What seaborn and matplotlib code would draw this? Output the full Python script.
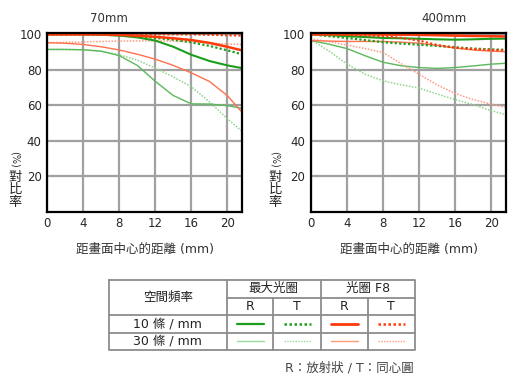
import numpy as np
import pandas as pd
import matplotlib
matplotlib.use("Agg")
import matplotlib.pyplot as plt
import seaborn as sns

# ---------------- data ----------------
x_pos = [0, 2, 4, 6, 8, 10, 12, 14, 16, 18, 20, 21.6]

# 70mm
w70_10R = [100, 100, 100, 99.8, 99.3, 98.3, 96.5, 93, 88.5, 85, 82.5, 81]
w70_10T = [100, 100, 100, 99.8, 99.5, 99, 98, 97, 95.5, 93.5, 91, 88.8]
f70_10R = [100, 100, 100, 100, 99.7, 99.2, 98.6, 97.8, 96.8, 95.2, 93, 91]
f70_10T = [100, 100, 100, 100, 100, 100, 100, 100, 100, 99.8, 99.5, 99.3]
w70_30R = [91.5, 91.5, 91.3, 90.5, 88, 82.5, 73.5, 65.5, 60.8, 60.7, 59.8, 58.3]
w70_30T = [91.5, 91.5, 91.3, 90.5, 88.5, 85.5, 81, 76, 70.5, 62, 52.5, 45.5]
f70_30R = [95.3, 95, 94.3, 93, 91.2, 88.8, 86, 82.5, 78.3, 73.5, 65.5, 56.3]
f70_30T = [95.3, 95.5, 95.7, 96, 96.2, 96.3, 96.3, 96.2, 95.8, 95.2, 94.5, 94.3]

# 400mm
w400_10R = [100, 99.6, 99, 98.5, 98, 97.8, 97.5, 97.2, 97, 97.2, 97.5, 97.6]
w400_10T = [100, 99, 98, 96.8, 95.6, 94.8, 94.2, 93.5, 92.7, 92, 91.5, 91.3]
f400_10R = [100, 100, 100, 100, 99.9, 99.8, 99.7, 99.5, 99.3, 99.1, 99, 98.8]
f400_10T = [100, 100, 99.8, 99.5, 99, 98, 96.5, 94, 92.5, 91.7, 91.2, 91]
w400_30R = [96.5, 94.5, 92, 88, 84.3, 82.3, 81.3, 80.8, 81.3, 82.2, 83.2, 83.7]
w400_30T = [97, 90.7, 83.3, 77.6, 73.8, 71.6, 69.7, 66.4, 63.2, 60.4, 57, 54.8]
f400_30R = [96.5, 96.2, 96, 96, 96, 95.6, 95, 93.8, 92.3, 91.2, 90.5, 90.2]
f400_30T = [97.5, 96, 94, 92, 89.8, 83.5, 77.5, 71.5, 66.7, 63.2, 60.7, 58.8]

x_ticks = [0, 4, 8, 12, 16, 20]
y_ticks = [20, 40, 60, 80, 100]
titles = ["70mm", "400mm"]
x_label = "距畫面中心的距離 (mm)"
table_head = ["空間頻率", "最大光圈", "光圈 F8"]
rt_labels = ["R", "T", "R", "T"]
freq_labels = ["10 條 / mm", "30 條 / mm"]
caption = "R：放射狀 / T：同心圓"

# ---------------- styles ----------------
C_G10 = "#1c9e1c"
C_R10 = "#ff3a0a"
C_G30R = "#5cb85c"
C_G30T = "#8fd48f"
C_F30R = "#ff7050"
C_F30T = "#ff9a80"
DOT = (0, (1, 1))

sns.set_theme(style="white")
MIX = ["DejaVu Sans", "Noto Sans CJK TC"]
plt.rcParams["font.family"] = MIX

W, H = 519, 389
fig = plt.figure(figsize=(W / 100, H / 100), dpi=100)


def box(l, t, r, b):
    return [l / W, 1 - b / H, (r - l) / W, (b - t) / H]


axes = [fig.add_axes(box(47.3, 33.3, 241.7, 211.7)),
        fig.add_axes(box(310.7, 33.3, 505.7, 211.7))]

sets = [
    [(w70_30T, C_G30T, DOT, 1.1), (w70_30R, C_G30R, "-", 1.0),
     (f70_30T, C_F30T, DOT, 1.1), (f70_30R, C_F30R, "-", 1.0),
     (w70_10T, C_G10, DOT, 1.6), (w70_10R, C_G10, "-", 1.5),
     (f70_10T, C_R10, DOT, 1.6), (f70_10R, C_R10, "-", 1.8)],
    [(w400_30T, C_G30T, DOT, 1.1), (w400_30R, C_G30R, "-", 1.0),
     (f400_30T, C_F30T, DOT, 1.1), (f400_30R, C_F30R, "-", 1.0),
     (w400_10T, C_G10, DOT, 1.6), (w400_10R, C_G10, "-", 1.5),
     (f400_10T, C_R10, DOT, 1.6), (f400_10R, C_R10, "-", 1.8)],
]

for ax, series in zip(axes, sets):
    for ys, col, ls, lw in series:
        sns.lineplot(x=x_pos, y=ys, ax=ax, color=col, linestyle=ls, lw=lw)
    ax.set_xlim(0, 21.6)
    ax.set_ylim(0, 100.6)
    ax.set_xticks(x_ticks)
    ax.set_yticks(y_ticks)
    ax.set_xticklabels([str(v) for v in x_ticks], fontsize=8.5)
    ax.set_yticklabels([str(v) for v in y_ticks], fontsize=8.5)
    ax.tick_params(length=0, pad=4)
    ax.grid(True, color="#a0a0a0", lw=1.6)
    ax.set_axisbelow(True)
    for s in ax.spines.values():
        s.set_color("black")
        s.set_linewidth(1.6)
    ax.set_xlabel("")
    ax.set_ylabel("")

# titles
fig.text(109 / W, 1 - 18 / H, titles[0], ha="center", va="center", fontsize=8.5, color="#333333")
fig.text(444 / W, 1 - 18 / H, titles[1], ha="center", va="center", fontsize=8.5, color="#333333")

# x labels
for cx in (145, 409):
    fig.text(cx / W, 1 - 249 / H, x_label, ha="center", va="center", fontsize=9, color="#333333")

# y labels: stacked characters with rotated (%)
for lx in (15, 275):
    fig.text(lx / W, 1 - 159 / H, "(%)", ha="center", va="center", rotation=270, fontsize=7, color="#333333")
    fig.text(lx / W, 1 - 190 / H, "對\n比\n率", ha="center", va="center", fontsize=9.5,
             linespacing=1.0, color="#222222", family=["Noto Sans CJK TC"])

# ---------------- table ----------------
tab = fig.add_axes([0, 0, 1, 1])
tab.set_xlim(0, W)
tab.set_ylim(H, 0)
tab.axis("off")

cols = [109, 226.7, 273.3, 320.7, 367.7, 415]
rows = [280, 297.7, 315, 332.7, 350]
LC = "#8c8c8c"
LW = 1.3
# outer
tab.plot([cols[0], cols[-1], cols[-1], cols[0], cols[0]],
         [rows[0], rows[0], rows[-1], rows[-1], rows[0]], color=LC, lw=LW)
tab.plot([cols[1], cols[-1]], [rows[1], rows[1]], color=LC, lw=LW)
for r in rows[2:4]:
    tab.plot([cols[0], cols[-1]], [r, r], color=LC, lw=LW)
for c in (cols[1], cols[3]):
    tab.plot([c, c], [rows[0], rows[-1]], color=LC, lw=LW)
for c in (cols[2], cols[4]):
    tab.plot([c, c], [rows[1], rows[-1]], color=LC, lw=LW)

TS = 9
TC = "#222222"
tab.text((cols[0] + cols[1]) / 2, rows[2] - 17.5, table_head[0], ha="center", va="center", fontsize=TS, color=TC)
tab.text((cols[1] + cols[3]) / 2, (rows[0] + rows[1]) / 2, table_head[1], ha="center", va="center", fontsize=TS, color=TC)
tab.text((cols[3] + cols[5]) / 2, (rows[0] + rows[1]) / 2, table_head[2], ha="center", va="center", fontsize=TS, color=TC)
for i, lab in enumerate(rt_labels):
    tab.text((cols[i + 1] + cols[i + 2]) / 2, (rows[1] + rows[2]) / 2 + 0.5, lab, ha="center", va="center",
             fontsize=TS, color=TC)
for j, lab in enumerate(freq_labels):
    tab.text((cols[0] + cols[1]) / 2, (rows[j + 2] + rows[j + 3]) / 2, lab, ha="center", va="center",
             fontsize=TS, color=TC)

samples = [
    [(C_G10, "-", 1.6), (C_G10, DOT, 1.8), (C_R10, "-", 2.0), (C_R10, DOT, 1.8)],
    [("#9ad99a", "-", 1.0), ("#9ad99a", DOT, 1.0), ("#ff9a7a", "-", 1.0), ("#ff9a7a", DOT, 1.0)],
]
for j, row in enumerate(samples):
    yy = (rows[j + 2] + rows[j + 3]) / 2
    for i, (col, ls, lw) in enumerate(row):
        cx = (cols[i + 1] + cols[i + 2]) / 2
        tab.plot([cx - 13.5, cx + 13.5], [yy, yy], color=col, linestyle=ls, lw=lw)

tab.text(414, 368, caption, ha="right", va="center", fontsize=9, color="#444444")

fig.savefig("out.png", dpi=100)
